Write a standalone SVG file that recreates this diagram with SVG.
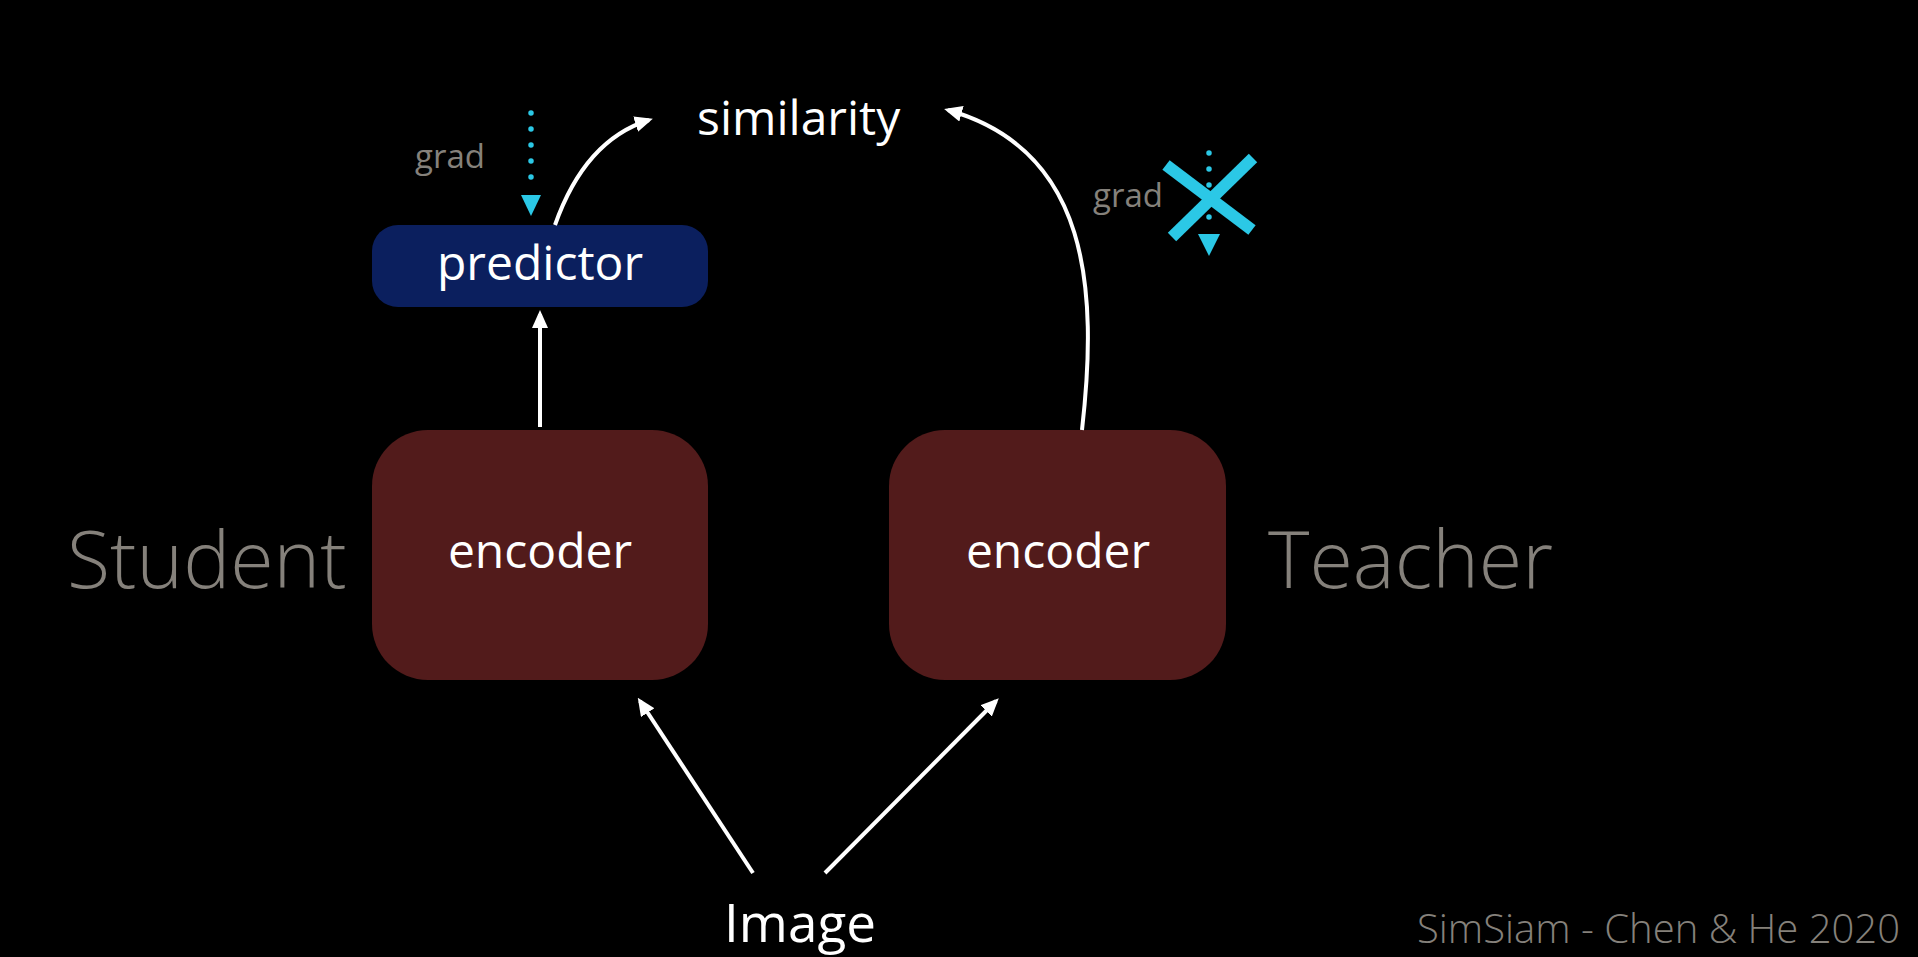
<svg xmlns="http://www.w3.org/2000/svg" width="1918" height="957" viewBox="0 0 1918 957">
  <style>
    text { font-family: "Open Sans", "Liberation Sans", sans-serif; }
    .w { fill: #ffffff; font-size: 48px; }
    .side { fill: #85817b; font-size: 79px; font-weight: 300; }
    .grad { fill: #85817b; font-size: 33px; }
    .cite { fill: #85817b; font-size: 40px; font-weight: 300; }
    .enc { fill: #521b1b; }
    .pred { fill: #0b1f5e; }
    .conn { stroke: #ffffff; stroke-width: 4; fill: none; }
    .dots { stroke: #2bc8e6; stroke-width: 5.5; stroke-linecap: round; stroke-dasharray: 0 16; fill: none; }
    .cyan { fill: #2bc8e6; }
  </style>
  <defs>
    <marker id="ah" markerUnits="userSpaceOnUse" viewBox="0 0 18 16" markerWidth="18" markerHeight="16" refX="14" refY="8" orient="auto">
      <path d="M0,0 L18,8 L0,16 z" fill="#ffffff"/>
    </marker>
  </defs>
  <rect x="0" y="0" width="1918" height="957" fill="#000000"/>

  <g id="similarity">
    <text class="w" x="697" y="135">similarity</text>
  </g>

  <g id="predictor">
    <rect class="pred" x="372" y="225" width="336" height="82" rx="26"/>
    <text class="w" x="540" y="280" text-anchor="middle">predictor</text>
  </g>

  <g id="student-encoder">
    <rect class="enc" x="372" y="430" width="336" height="250" rx="56"/>
    <text class="w" x="540" y="568" text-anchor="middle">encoder</text>
  </g>

  <g id="teacher-encoder">
    <rect class="enc" x="889" y="430" width="337" height="250" rx="56"/>
    <text class="w" x="1058" y="568" text-anchor="middle">encoder</text>
  </g>

  <g id="student-label">
    <text class="side" x="67" y="588">Student</text>
  </g>
  <g id="teacher-label">
    <text class="side" x="1268" y="588">Teacher</text>
  </g>

  <g id="image">
    <text class="w" x="800" y="942" text-anchor="middle" style="font-size:53px">Image</text>
  </g>

  <g id="citation">
    <text class="cite" x="1417" y="943">SimSiam - Chen &amp; He 2020</text>
  </g>

  <g id="grad-student">
    <text class="grad" x="415" y="168">grad</text>
    <line class="dots" x1="531" y1="113" x2="531" y2="180"/>
    <path class="cyan" d="M521,195 L541,195 L531,216 z"/>
  </g>

  <g id="grad-teacher">
    <text class="grad" x="1093" y="207">grad</text>
    <line class="dots" x1="1209" y1="153" x2="1209" y2="220"/>
    <path class="cyan" d="M1198,234 L1220,234 L1209,256 z"/>
    <line x1="1166" y1="165" x2="1252" y2="230" stroke="#2bc8e6" stroke-width="12"/>
    <line x1="1253" y1="158" x2="1172" y2="237" stroke="#2bc8e6" stroke-width="12"/>
  </g>

  <g id="connectors">
    <line class="conn" x1="540" y1="427" x2="540" y2="314" marker-end="url(#ah)"/>
    <path class="conn" d="M555,225 Q585,140 649,120" marker-end="url(#ah)"/>
    <path class="conn" d="M1082,430 C1098,290 1090,150 948,110" marker-end="url(#ah)"/>
    <line class="conn" x1="753" y1="873" x2="640" y2="701" marker-end="url(#ah)"/>
    <line class="conn" x1="825" y1="873" x2="996" y2="701" marker-end="url(#ah)"/>
  </g>
</svg>
